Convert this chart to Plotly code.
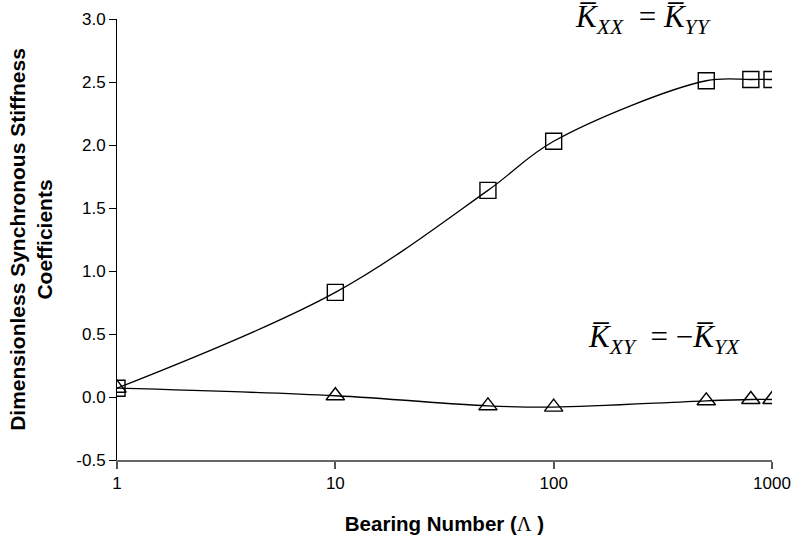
import plotly.graph_objects as go

bearing_number = [1, 10, 50, 100, 500, 800, 1000]
k_xx = [0.07, 0.83, 1.64, 2.03, 2.51, 2.52, 2.52]
k_xy = [0.07, 0.01, -0.07, -0.08, -0.03, -0.02, -0.02]
y_ticks = [-0.5, 0.0, 0.5, 1.0, 1.5, 2.0, 2.5, 3.0]
y_tick_labels = ["-0.5", "0.0", "0.5", "1.0", "1.5", "2.0", "2.5", "3.0"]
x_ticks = [1, 10, 100, 1000]
x_tick_labels = ["1", "10", "100", "1000"]

fig = go.Figure()
fig.add_trace(go.Scatter(
    x=bearing_number, y=k_xx, mode="lines+markers",
    line=dict(color="black", width=1.3, shape="spline", smoothing=1),
    marker=dict(symbol="square-open", size=16, color="black", line=dict(width=1.4, color="black")),
    showlegend=False))
fig.add_trace(go.Scatter(
    x=bearing_number, y=k_xy, mode="lines+markers",
    line=dict(color="black", width=1.3, shape="spline", smoothing=1),
    marker=dict(symbol="triangle-up-open", size=16, color="black", line=dict(width=1.4, color="black")),
    showlegend=False))

serif = dict(family="Liberation Serif, Times New Roman, serif", size=31, color="black")
fig.add_annotation(
    x=0.803, y=1.0, xref="paper", yref="paper", xanchor="center", yanchor="middle",
    text="<i>K\u0305</i><sub><i>XX</i></sub>  = <i>K\u0305</i><sub><i>YY</i></sub>",
    showarrow=False, font=serif)
fig.add_annotation(
    x=0.835, y=0.275, xref="paper", yref="paper", xanchor="center", yanchor="middle",
    text="<i>K\u0305</i><sub><i>XY</i></sub>  = \u2212<i>K\u0305</i><sub><i>YX</i></sub>",
    showarrow=False, font=serif)

fig.update_layout(
    width=793, height=538,
    margin=dict(l=117, r=21, t=19, b=78, autoexpand=False),
    paper_bgcolor="white", plot_bgcolor="white",
    font=dict(family="Liberation Sans, Arial, sans-serif", color="black"),
    xaxis=dict(
        type="log", range=[0, 3],
        tickvals=x_ticks, ticktext=x_tick_labels,
        ticks="outside", ticklen=7, tickwidth=1.5, tickcolor="#555",
        showline=True, linecolor="#666", linewidth=2,
        showgrid=False, zeroline=False, automargin=False,
        tickfont=dict(size=17),
        title=dict(text="<b>Bearing Number (</b><span style='font-family:Liberation Serif'>Λ</span><b> )</b>",
                   font=dict(size=20.5), standoff=24),
    ),
    yaxis=dict(
        range=[-0.5, 3.0],
        tickvals=y_ticks, ticktext=y_tick_labels,
        ticks="outside", ticklen=7, tickwidth=1, tickcolor="black",
        showline=True, linecolor="black", linewidth=1,
        showgrid=False, zeroline=False, automargin=False,
        tickfont=dict(size=17),
        title=dict(text="<b>Dimensionless Synchronous Stiffness<br>Coefficients</b>",
                   font=dict(size=21), standoff=17),
    ),
)

fig.write_html("out.html", config={"displayModeBar": False},
               post_script="document.body.style.margin='0';")
